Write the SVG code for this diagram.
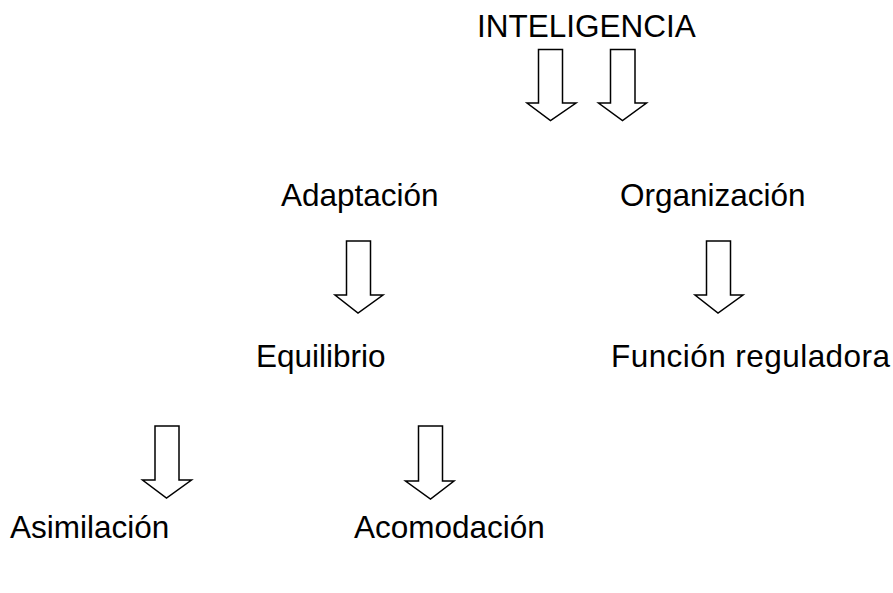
<svg xmlns="http://www.w3.org/2000/svg" width="893" height="593" viewBox="0 0 893 593">
<style>
text{font-family:"Liberation Sans",Arial,sans-serif;font-size:31.5px;fill:#000}
.ar{fill:#fff;stroke:#000;stroke-width:1.5;stroke-linejoin:miter}
</style>
<rect width="893" height="593" fill="#fff"/>
<g id="n-inteligencia"><text x="477" y="37">INTELIGENCIA</text></g>
<g id="n-adaptacion"><text x="281" y="206">Adaptación</text></g>
<g id="n-organizacion"><text x="620" y="206">Organización</text></g>
<g id="n-equilibrio"><text x="256" y="367">Equilibrio</text></g>
<g id="n-funcion"><text x="611" y="367" textLength="279" lengthAdjust="spacing">Función reguladora</text></g>
<g id="n-asimilacion"><text x="10" y="538">Asimilación</text></g>
<g id="n-acomodacion"><text x="354" y="538">Acomodación</text></g>
<g id="connectors">
<path class="ar" d="M538.5,49.5 H562.5 V103 H576 L550.5,120.5 L527,103 H538.5 Z"/>
<path class="ar" d="M610.5,49.5 H635 V103 H646.5 L622.5,120.5 L598.5,103 H610.5 Z"/>
<path class="ar" d="M346.5,241 H370.5 V295 H383 L358,313 L335,295 H346.5 Z"/>
<path class="ar" d="M706.5,241 H730.5 V295 H743 L718,313 L695,295 H706.5 Z"/>
<path class="ar" d="M155,426 H179 V480 H191.5 L166.5,498 L142.5,480 H155 Z"/>
<path class="ar" d="M418.5,426 H442.5 V481 H454 L430.5,499 L405.5,481 H418.5 Z"/>
</g>
</svg>
